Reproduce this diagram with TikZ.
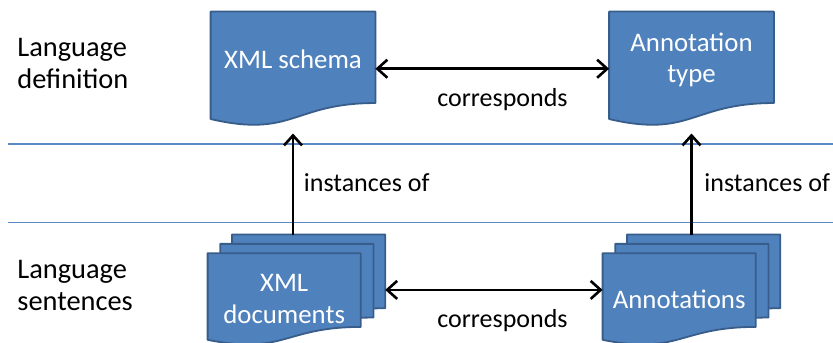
\documentclass[tikz,border=0pt]{standalone}
\usepackage{fontspec}
\setmainfont{Carlito}
\usetikzlibrary{arrows.meta, calc, backgrounds}

\definecolor{docblue}{HTML}{4F81BD}
\definecolor{docedge}{HTML}{385D8A}
\definecolor{rowline}{HTML}{5A8AC6}

% document outline with a wavy bottom, drawn round a node
\newcommand{\docoutline}[1]{%
  \path [sheet] (#1.north west) -- (#1.north east)
    -- ($(#1.south east)!0.2!(#1.north east)$)
    .. controls ($(#1.south)!0.2!(#1.north)$) and ($(#1.south)!-0.108!(#1.north)$)
    .. ($(#1.south west)!0.06!(#1.north west)$) -- cycle;}

\begin{document}
\begin{tikzpicture}[x=0.5pt, y=-0.5pt, font=\fontsize{13}{15.85}\selectfont]
%
% Sketch:
%  XML schema     <-- corresponds -->  Annotation type
%      ^ instances of                      ^ instances of
%  XML documents  <-- corresponds -->  Annotations
%
% Styles
\tikzstyle{doc} = [rectangle, inner sep=0pt, minimum width=82pt, minimum height=56.75pt, text=white, align=center, font=\fontsize{13.4}{15.85}\selectfont]
\tikzstyle{page} = [doc, minimum width=76.2pt, minimum height=45.65pt]
\tikzstyle{doctext} = [text=white, align=center, inner sep=0pt, yshift=4.5pt, font=\fontsize{13.4}{15.85}\selectfont]
\tikzstyle{sheet} = [fill=docblue, draw=docedge, line width=0.9pt, line join=round]
\tikzstyle{rowlabel} = [anchor=west, align=left, inner sep=0pt, font=\fontsize{14.2}{15.85}\selectfont]
\tikzstyle{arrowlabel} = [anchor=base west, inner sep=0pt]
\tikzstyle{arrow} = [line width=1.3pt, >={Straight Barb[length=5pt, width=9pt]}]
\useasboundingbox (0,0) rectangle (833,342);
% Separators
\draw [rowline, line width=0.55pt] (8,144) -- (833,144);
\draw [rowline, line width=0.55pt] (8,222.3) -- (833,222.3);
% Row labels
\node (defrow) [rowlabel] at (17,63.8) {Language\\definition};
\node (sentrow) [rowlabel] at (17,285.6) {Language\\sentences};
% Nodes
\node (schema) [doc, label={[doctext]center:XML schema}] at (293,68.75) {};
\node (anntype) [doc, label={[doctext]center:Annotation\\type}] at (691.5,68.75) {};
\node (xmldocs) [page] at (284.2,299.3) {XML\\documents};
\node (xmlmid) [page, xshift=6.3pt, yshift=4.7pt] at (xmldocs) {};
\node (xmlback) [page, xshift=12.2pt, yshift=9.35pt] at (xmldocs) {};
\node (annots) [page] at (679.2,299.3) {Annotations};
\node (annmid) [page, xshift=6.3pt, yshift=4.7pt] at (annots) {};
\node (annback) [page, xshift=12.2pt, yshift=9.35pt] at (annots) {};
% Outlines
\begin{pgfonlayer}{background}
\docoutline{schema}
\docoutline{anntype}
\docoutline{xmlback}
\docoutline{xmlmid}
\docoutline{xmldocs}
\docoutline{annback}
\docoutline{annmid}
\docoutline{annots}
\end{pgfonlayer}
% Arrows
\draw [arrow, <->] (schema.east) -- (anntype.west);
\draw [arrow, <->] (xmlback.east |- xmlmid.center) -- (annots.west |- xmlmid.center);
\draw [arrow, ->, shorten >=3.8pt] (xmlback.north -| schema.south) -- (schema.south);
\draw [arrow, ->, shorten >=3.8pt] (annback.north -| anntype.south) -- (anntype.south);
% Arrow labels
\node (corrtop) [anchor=base, inner sep=0pt] at (502.5,106.7) {corresponds};
\node (corrbot) [anchor=base, inner sep=0pt] at (502.5,327.5) {corresponds};
\node (instleft) [arrowlabel] at (303.5,191.7) {instances of};
\node (instright) [arrowlabel] at (704,191.7) {instances of};
\end{tikzpicture}
\end{document}
